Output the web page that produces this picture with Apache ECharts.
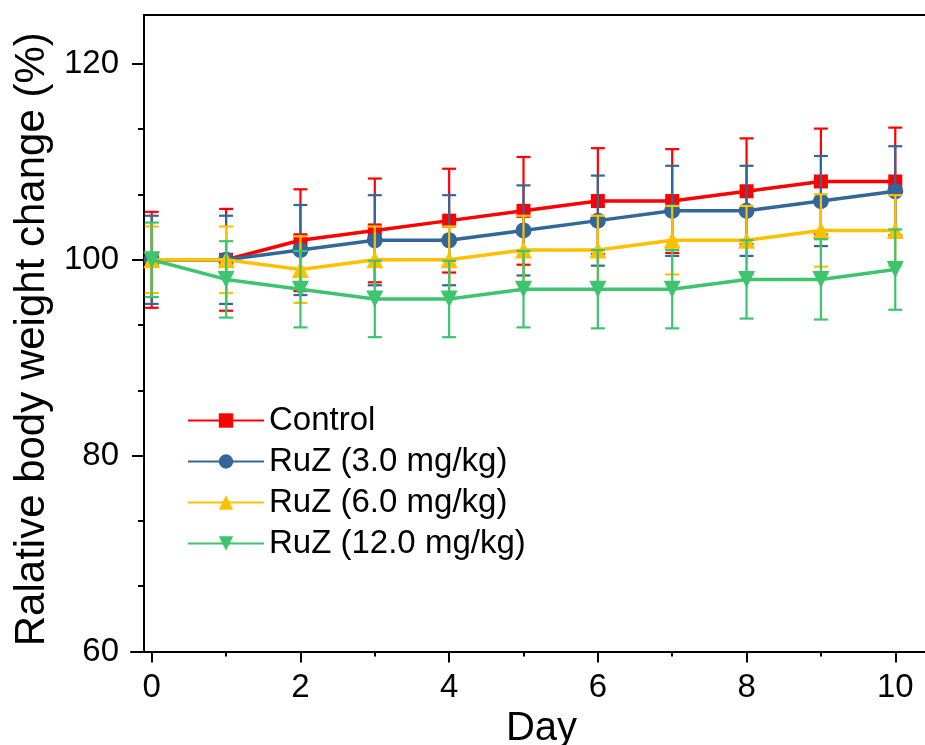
<!DOCTYPE html>
<html><head><meta charset="utf-8">
<script src="https://cdn.jsdelivr.net/npm/echarts@6/dist/echarts.min.js"></script>
<style>html,body{margin:0;padding:0;background:#fff}#c{width:925px;height:745px}</style>
</head><body><div id="c"></div>
<script>
const days = [0,1,2,3,4,5,6,7,8,9,10];
const seriesNames = ['Control','RuZ (3.0 mg/kg)','RuZ (6.0 mg/kg)','RuZ (12.0 mg/kg)'];
const control    = [100,100,102,103,104,105,106,106,107,108,108];
const controlErr = [4.9,5.2,5.2,5.3,5.3,5.5,5.4,5.3,5.4,5.4,5.5];
const ruz3       = [100,100,101,102,102,103,104,105,105,106,107];
const ruz3Err    = [4.5,4.5,4.6,4.6,4.6,4.6,4.6,4.6,4.6,4.6,4.6];
const ruz6       = [100,100,99,100,100,101,101,102,102,103,103];
const ruz6Err    = [3.4,3.4,3.4,3.4,3.4,3.5,3.5,3.5,3.5,3.7,3.6];
const ruz12      = [100,98,97,96,96,97,97,97,98,98,99];
const ruz12Err   = [3.8,3.9,3.9,3.9,3.9,3.9,4.0,4.0,4.0,4.1,4.1];
const xMajorTicks = [0,2,4,6,8,10];
const xMinorTicks = [1,3,5,7,9];
const yMajorTicks = [60,80,100,120];
const yMinorTicks = [66.667,73.333,86.667,93.333,106.667,113.333];

const colors = ['#ff0000','#336699','#ffc000','#3cc46e'];
const symbols = ['rect','circle','triangle','triangle'];
const symbolRot = [0,0,0,180];
const symbolSizes = [14,16,17,17];
const means = [control, ruz3, ruz6, ruz12];
const errs = [controlErr, ruz3Err, ruz6Err, ruz12Err];
const FONT = 'Liberation Sans';

function errRender(color){
  return function(params, api){
    const x = api.value(0), lo = api.value(1), hi = api.value(2);
    const pHi = api.coord([x, hi]), pLo = api.coord([x, lo]);
    const hw = 7;
    const style = {stroke: color, lineWidth: 2.2, fill: null};
    return {type:'group', children:[
      {type:'line', shape:{x1:pHi[0],y1:pHi[1],x2:pLo[0],y2:pLo[1]}, style:style},
      {type:'line', shape:{x1:pHi[0]-hw,y1:pHi[1],x2:pHi[0]+hw,y2:pHi[1]}, style:style},
      {type:'line', shape:{x1:pLo[0]-hw,y1:pLo[1],x2:pLo[0]+hw,y2:pLo[1]}, style:style}
    ]};
  };
}

const series = [];
seriesNames.forEach(function(name, k){
  series.push({
    type:'custom', name: name+' err', xAxisIndex:0, yAxisIndex:0,
    renderItem: errRender(colors[k]), z: 2+2*k,
    encode:{x:0, y:[1,2]},
    data: days.map(function(d,i){ return [d, means[k][i]-errs[k][i], means[k][i]+errs[k][i]]; }),
    silent:true
  });
  series.push({
    type:'line', name: name, xAxisIndex:0, yAxisIndex:0, z: 3+2*k,
    data: days.map(function(d,i){ return [d, means[k][i]]; }),
    symbol: symbols[k], symbolRotate: symbolRot[k], symbolSize: symbolSizes[k],
    showAllSymbol:true,
    itemStyle:{color: colors[k], opacity:1},
    lineStyle:{color: colors[k], width:3.5}
  });
});

const black = '#000';
const option = {
  animation:false,
  backgroundColor:'#fff',
  grid:[
    {left:144, right:0, top:15, bottom:93.5, outerBoundsMode:'none', containLabel:false},
    {left:131, right:0, top:15, bottom:93.5, outerBoundsMode:'none', containLabel:false},
    {left:144, right:0, top:15, bottom:93.5, outerBoundsMode:'none', containLabel:false}
  ],
  legend:{
    orient:'vertical', left:187, top:404, padding:0,
    itemWidth:76, itemHeight:18, itemGap:8,
    data: seriesNames,
    textStyle:{fontFamily:FONT, fontSize:33, lineHeight:30, color:black}
  },
  xAxis:[
    {gridIndex:0, type:'value', min:-0.104, max:10.40, position:'bottom',
     axisLine:{show:true, onZero:false, lineStyle:{color:black, width:2}},
     axisTick:{show:true, customValues:xMajorTicks, length:11, lineStyle:{color:black, width:2}},
     axisLabel:{show:true, customValues:xMajorTicks, margin:20, fontFamily:FONT, fontSize:33, color:black},
     splitLine:{show:false},
     name:'Day', nameLocation:'middle', nameGap:40,
     nameTextStyle:{fontFamily:FONT, fontSize:40, color:black, padding:[0,0,0,14]}},
    {gridIndex:0, type:'value', min:-0.104, max:10.40, position:'top',
     axisLine:{show:true, onZero:false, lineStyle:{color:black, width:2}},
     axisTick:{show:false}, axisLabel:{show:false}, splitLine:{show:false}},
    {gridIndex:1, type:'value', min:0, max:1, position:'bottom',
     axisLine:{show:true, onZero:false, lineStyle:{color:black, width:2}},
     axisTick:{show:false}, axisLabel:{show:false}, splitLine:{show:false}},
    {gridIndex:2, type:'value', min:-0.104, max:10.40, position:'bottom',
     axisLine:{show:false, onZero:false},
     axisTick:{show:true, customValues:xMinorTicks, length:5, lineStyle:{color:black, width:2}},
     axisLabel:{show:false}, splitLine:{show:false}}
  ],
  yAxis:[
    {gridIndex:0, type:'value', min:60, max:125, position:'left',
     axisLine:{show:true, onZero:false, lineStyle:{color:black, width:2}},
     axisTick:{show:true, customValues:yMajorTicks, length:12, lineStyle:{color:black, width:2}},
     axisLabel:{show:true, customValues:yMajorTicks, margin:25, fontFamily:FONT, fontSize:33, color:black},
     splitLine:{show:false},
     name:'Ralative body weight change (%)', nameLocation:'middle', nameGap:88, nameRotate:90,
     nameTextStyle:{fontFamily:FONT, fontSize:42, color:black, padding:[0,12,0,0]}},
    {gridIndex:1, type:'value', min:0, max:1, show:false},
    {gridIndex:2, type:'value', min:60, max:125, position:'left',
     axisLine:{show:false, onZero:false},
     axisTick:{show:true, customValues:yMinorTicks, length:6, lineStyle:{color:black, width:2}},
     axisLabel:{show:false}, splitLine:{show:false}}
  ],
  series: series
};
const chart = echarts.init(document.getElementById('c'), null, {renderer:'canvas'});
chart.setOption(option);
</script></body></html>
